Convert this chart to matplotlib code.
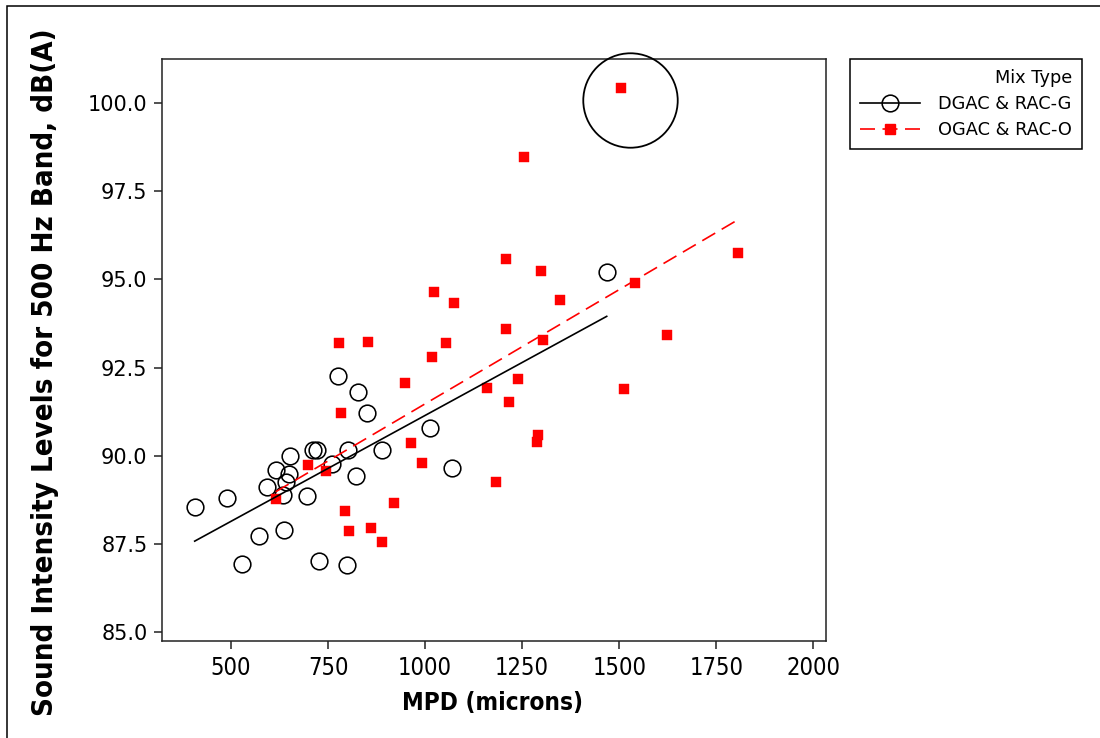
import numpy as np
import matplotlib
matplotlib.use("Agg")
import matplotlib.pyplot as plt
from matplotlib.lines import Line2D
from matplotlib.patches import Rectangle
import matplotlib.font_manager as fm

# ---------------- data ----------------
dgac_mpd = [406.5, 489.7, 529.1, 572.9, 593.5, 616.7, 635.8, 634.7, 642.5, 648.6,
            652.0, 695.0, 712.0, 722.3, 727.5, 760.2, 775.6, 798.8, 802.2, 822.0,
            826.4, 849.6, 889.0, 1012.6, 1070.0, 1467.8]
dgac_db = [88.56, 88.81, 86.94, 87.72, 89.13, 89.60, 87.90, 88.89, 89.26, 89.48,
           89.99, 88.87, 90.16, 90.16, 87.03, 89.77, 92.25, 86.90, 90.16, 89.43,
           91.82, 91.21, 90.16, 90.78, 89.65, 95.21]

ogac_mpd = [615.1, 698.4, 745.5, 777.4, 782.6, 792.9, 804.7, 852.1, 859.9, 888.2,
            919.9, 947.5, 962.9, 991.2, 1018.5, 1022.9, 1053.8, 1073.7, 1160.7, 1183.9,
            1208.4, 1208.4, 1216.1, 1239.3, 1255.5, 1287.5, 1290.8, 1299.3, 1303.7, 1346.7,
            1505.4, 1512.4, 1541.5, 1623.9, 1806.0]
ogac_db = [88.79, 89.75, 89.57, 93.19, 91.20, 88.44, 87.87, 93.23, 87.96, 87.57,
           88.65, 92.05, 90.35, 89.79, 92.79, 94.63, 93.19, 94.32, 91.92, 89.27,
           95.58, 93.58, 91.53, 92.18, 98.45, 90.39, 90.59, 95.23, 93.27, 94.40,
           100.42, 91.88, 94.89, 93.41, 95.75]

series_labels = ["DGAC & RAC-G", "OGAC & RAC-O"]
legend_title = "Mix Type"
x_label = "MPD (microns)"
y_label = "Sound Intensity Levels for 500 Hz Band, dB(A)"
x_ticks = [500, 750, 1000, 1250, 1500, 1750, 2000]
y_ticks = [85.0, 87.5, 90.0, 92.5, 95.0, 97.5, 100.0]
highlight_mpd = 1527.0
highlight_db = 100.08

# ---------------- fonts ----------------
def find_font(patterns):
    for pat in patterns:
        for f in fm.fontManager.ttflist:
            if f.fname.endswith(pat):
                return fm.FontProperties(fname=f.fname)
    return None

cond_bold = find_font(["DejaVuSansCondensed-Bold.ttf", "LiberationSansNarrow-Bold.ttf"])
cond_reg = find_font(["DejaVuSansCondensed.ttf", "LiberationSansNarrow-Regular.ttf"])

plt.rcParams["font.family"] = ["DejaVu Sans"]

W, H = 1100, 738
fig = plt.figure(figsize=(W / 100, H / 100), dpi=100)
fig.patch.set_facecolor("white")

ax_l, ax_r, ax_t, ax_b = 162, 825.7, 59, 641.3
ax = fig.add_axes([ax_l / W, 1 - ax_b / H, (ax_r - ax_l) / W, (ax_b - ax_t) / H])

# outer frame of the figure
fig.add_artist(Rectangle((7 / W, -0.05), 1.2, 1 - 6 / H + 0.05, transform=fig.transFigure,
                         fill=False, ec="black", lw=1.1, clip_on=False))

dg_x = np.array(dgac_mpd); dg_y = np.array(dgac_db)
og_x = np.array(ogac_mpd); og_y = np.array(ogac_db)

ax.plot(dg_x, dg_y, linestyle="none", marker="o", ms=12, mfc="none", mec="black",
        mew=1.15, zorder=3)
ax.plot(og_x, og_y, linestyle="none", marker="s", ms=7.6, mfc="red", mec="red",
        mew=0.3, zorder=3)

# least-squares fit lines over each group's range
p_dg = np.polyfit(dg_x, dg_y, 1)
xs = np.array([dg_x.min(), dg_x.max()])
ax.plot(xs, np.polyval(p_dg, xs), color="black", lw=1.2, zorder=4)
p_og = np.polyfit(og_x, og_y, 1)
xs = np.array([og_x.min(), og_x.max()])
ax.plot(xs, np.polyval(p_og, xs), color="red", lw=1.2, dashes=(9, 4.5), zorder=4)

# highlight ring around the outlier
ax.plot([highlight_mpd], [highlight_db], linestyle="none", marker="o", ms=68,
        mfc="none", mec="black", mew=1.3, clip_on=False, zorder=5)

ax.set_xlim(322.3, 2031.9)
ax.set_ylim(84.745, 101.24)
ax.set_xticks(x_ticks)
ax.set_xticklabels([f"{v:d}" for v in x_ticks])
ax.set_yticks(y_ticks)
ax.set_yticklabels([f"{v:.1f}" for v in y_ticks])
ax.tick_params(direction="out", length=6, width=1.1, colors="#222222", labelcolor="black",
               labelsize=15, pad=4.5)
if cond_reg is not None:
    for lab in ax.get_xticklabels():
        lab.set_fontproperties(cond_reg)
        lab.set_fontsize(17)
for s in ax.spines.values():
    s.set_linewidth(1.1)
    s.set_color("#222222")

# axis titles
xt = fig.text(493 / W, 1 - 703 / H, x_label, ha="center", va="center", fontsize=17,
              fontweight="bold")
yt = fig.text(45 / W, 1 - 372 / H, y_label, ha="center", va="center", rotation=90,
              fontsize=17, fontweight="bold")
if cond_bold is not None:
    for t in (xt, yt):
        t.set_fontproperties(cond_bold)
        t.set_fontsize(17)

# fit title lengths to the reference
fig.canvas.draw()
r = fig.canvas.get_renderer()
for t, target, dim in ((xt, 181, "w"), (yt, 686, "h")):
    bb = t.get_window_extent(r)
    cur = bb.width if dim == "w" else bb.height
    t.set_fontsize(t.get_fontsize() * target / cur)

# legend
h1 = Line2D([], [], color="black", lw=1.2, marker="o", ms=12, mfc="none", mec="black", mew=1.15)
h2 = Line2D([], [], color="red", lw=1.2, dashes=(9, 4.5), marker="s", ms=7.6, mfc="red", mec="red")
leg = fig.legend([h1, h2], series_labels, title=legend_title, loc="upper left",
                 bbox_to_anchor=(850 / W, 1 - 59 / H), bbox_transform=fig.transFigure,
                 frameon=True, fancybox=False, framealpha=1, edgecolor="black",
                 fontsize=12.8, title_fontsize=12.8, alignment="right", handlelength=3.4,
                 handletextpad=1.0, borderpad=0.55, labelspacing=0.45, borderaxespad=0,
                 numpoints=1)
leg.get_frame().set_linewidth(1.1)

fig.savefig("out.png", dpi=100)
